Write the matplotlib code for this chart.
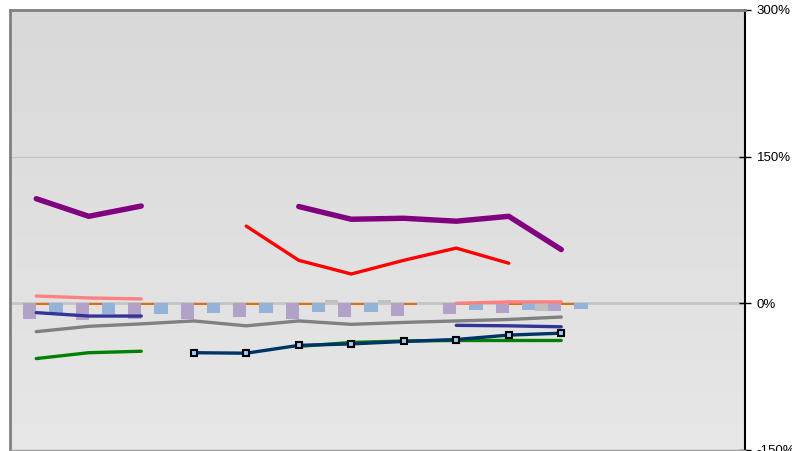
import matplotlib
matplotlib.use('Agg')
import matplotlib.pyplot as plt
from matplotlib.ticker import FuncFormatter
import numpy as np

nan = np.nan

# 14 categories, no visible labels
categories = list(range(14))

# line series (values in %)
purple_line = [107, 89, 99.5, nan, nan, 99, 86, 87, 84, 89, 55, nan, nan, nan]
red_line = [nan, nan, nan, nan, 79, 44, 30, 44, 56.5, 41, nan, nan, nan, nan]
pink_line = [7.5, 5.5, 4.5, nan, nan, nan, nan, nan, 0, 1.5, 1.5, nan, nan, nan]
indigo_line = [-9.5, -13, -13, nan, nan, nan, nan, nan, -22.5, -23, -24, nan, nan, nan]
gray_line = [-29, -23.5, -21, -18, -23, -18, -21.5, -19.5, -18, -16.5, -14, nan, nan, nan]
green_line = [-56.5, -50.5, -49, nan, nan, -44, -40, -38.5, -38, -38, -38, nan, nan, nan]
navy_line = [nan, nan, nan, -50.5, -51, -43, -41.5, -39, -37, -32.5, -30.5, nan, nan, nan]

# bar series (values in %)
gray_bar = [0, 0, 0, 0, 0, 0, 3, 3, 0, 2, -8, nan, nan, nan]
purple_bar = [-16.5, -17, -16, -16, -14, -16.5, -14, -12.5, -11, -10, -8, nan, nan, nan]
orange_bar = [-1.5, -1.5, -1.5, -1.5, -1.5, -1.5, -1.5, -1.5, -1.5, -1.5, -1.5, nan, nan, nan]
blue_bar = [-11, -11, -11, -10, -10, -9, -9, 0, -7, -7, -5.5, nan, nan, nan]

y_ticks = [-150, 0, 150, 300]


def pct(x, pos):
    return f'{int(x)}%'


def main():
    plt.rcParams['font.family'] = ['Liberation Sans', 'DejaVu Sans']
    fig = plt.figure(figsize=(7.92, 4.51), dpi=100)
    ax = fig.add_axes([10 / 792, 1 / 451, 735 / 792, 440 / 451])

    x = np.array(categories, dtype=float)

    # background gradient, darker at the top
    grad = np.linspace(0.85, 0.905, 256).reshape(-1, 1)
    ax.imshow(np.dstack([grad, grad, grad]), extent=[-0.5, 13.5, -150, 300],
              aspect='auto', zorder=0, origin='upper')

    ax.axhline(150, color='#c0c0c0', linewidth=0.8, zorder=1)
    ax.axhline(0, color='#c4c4c4', linewidth=2, zorder=1)

    w = 0.25
    bar_series = [(gray_bar, '#c0c0c0'), (purple_bar, '#b3a2c7'),
                  (orange_bar, '#e46c0a'), (blue_bar, '#95b3d7')]
    for i, (vals, col) in enumerate(bar_series):
        ax.bar(x + (i - 1.5) * w, vals, width=w, color=col, zorder=2)

    lines = [
        (gray_line, '#808080', 2.4),
        (green_line, '#008000', 2.4),
        (indigo_line, '#333399', 2.4),
        (pink_line, '#ff8080', 2.4),
        (red_line, '#ff0000', 2.4),
        (purple_line, '#800080', 3.9),
    ]
    for vals, col, lw in lines:
        ax.plot(x, vals, color=col, linewidth=lw, solid_capstyle='round', zorder=3)

    ax.plot(x, navy_line, color='#003366', linewidth=2.4, marker='s', markersize=5,
            markerfacecolor='#99ccff', markeredgecolor='black', markeredgewidth=1.5, zorder=4)

    ax.set_xlim(-0.5, 13.5)
    ax.set_ylim(-150, 300)
    ax.set_xticks([])
    ax.yaxis.tick_right()
    ax.set_yticks(y_ticks)
    ax.yaxis.set_major_formatter(FuncFormatter(pct))
    ax.tick_params(axis='y', direction='inout', length=9, width=1, color='black',
                   labelsize=9.5, pad=4)

    ax.spines['left'].set_color('#808080')
    ax.spines['left'].set_linewidth(2)
    ax.spines['top'].set_color('#808080')
    ax.spines['top'].set_linewidth(2)
    ax.spines['bottom'].set_color('#a0a0a0')
    ax.spines['bottom'].set_linewidth(1)
    ax.spines['right'].set_color('black')
    ax.spines['right'].set_linewidth(1.5)

    fig.savefig('out.png', dpi=100, facecolor='white')


if __name__ == '__main__':
    main()
